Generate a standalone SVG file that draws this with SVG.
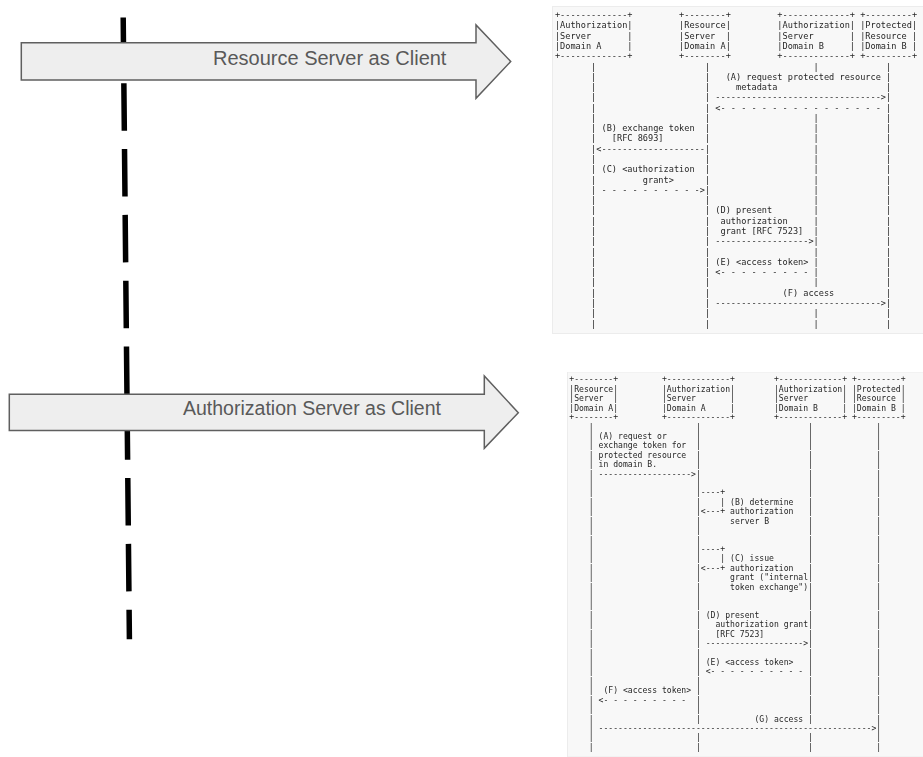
<svg xmlns="http://www.w3.org/2000/svg" width="923" height="757" viewBox="0 0 923 757">
  <defs>
    <!-- Grayscale pass so the thin monospace strokes keep a neutral tone -->
    <filter id="mono-gray" x="0" y="0" width="1" height="1" color-interpolation-filters="sRGB">
      <feColorMatrix type="saturate" values="0"/>
    </filter>
  </defs>
  <style>
    .bg { fill: #ffffff; }
    .panel { fill: #f8f8f8; stroke: #ececec; stroke-width: 1; }
    .ascii { font-family: "DejaVu Sans Mono", "Liberation Mono", monospace; fill: #262626; }
    .top { font-size: 8.6px; }
    .bottom { font-size: 8.1px; }
    .block { fill: #eeeeee; stroke: #5f5f5f; stroke-width: 1.5; stroke-linejoin: miter; }
    .block-label { font-family: "Liberation Sans", Arial, sans-serif; fill: #595959; }
    .timeline { stroke: #000000; stroke-width: 5.5; stroke-dasharray: 47.5 18.3; fill: none; }
  </style>

  <rect class="bg" x="0" y="0" width="923" height="757"/>

  <!-- Dashed vertical timeline, drawn beneath the block arrows -->
  <g id="connectors">
    <line class="timeline" x1="123.2" y1="17.5" x2="129.4" y2="639.3"/>
  </g>

  <!-- Block arrow: Resource Server as Client -->
  <g id="arrow-resource-server">
    <path class="block" d="M21.3,42.7 L476,42.7 L476,25 L510.7,61.5 L476,98.3 L476,80 L21.3,80 Z"/>
    <text class="block-label" x="213" y="64.5" font-size="20">Resource Server as Client</text>
  </g>

  <!-- Block arrow: Authorization Server as Client -->
  <g id="arrow-authorization-server">
    <path class="block" d="M9.3,394.3 L484.3,394.3 L484.3,376 L518.3,412.7 L484.3,448.3 L484.3,430.5 L9.3,430.5 Z"/>
    <text class="block-label" x="183" y="415" font-size="19.5">Authorization Server as Client</text>
  </g>

  <!-- Sequence chart: resource server acting as client -->
  <g id="flow-resource-server" filter="url(#mono-gray)">
    <rect class="panel" x="552.5" y="6.5" width="371" height="327"/>
    <g class="ascii top">
      <text xml:space="preserve" x="554.9" y="18.1">+-------------+         +--------+         +-------------+ +---------+</text>
      <text xml:space="preserve" x="554.9" y="28.38">|Authorization|         |Resource|         |Authorization| |Protected|</text>
      <text xml:space="preserve" x="554.9" y="38.66">|Server       |         |Server  |         |Server       | |Resource |</text>
      <text xml:space="preserve" x="554.9" y="48.94">|Domain A     |         |Domain A|         |Domain B     | |Domain B |</text>
      <text xml:space="preserve" x="554.9" y="59.22">+-------------+         +--------+         +-------------+ +---------+</text>
      <text xml:space="preserve" x="554.9" y="69.5">       |                     |                    |             |</text>
      <text xml:space="preserve" x="554.9" y="79.78">       |                     |   (A) request protected resource |</text>
      <text xml:space="preserve" x="554.9" y="90.06">       |                     |     metadata                     |</text>
      <text xml:space="preserve" x="554.9" y="100.34">       |                     | --------------------------------&gt;|</text>
      <text xml:space="preserve" x="554.9" y="110.62">       |                     | &lt;- - - - - - - - - - - - - - - - |</text>
      <text xml:space="preserve" x="554.9" y="120.9">       |                     |                    |             |</text>
      <text xml:space="preserve" x="554.9" y="131.18">       | (B) exchange token  |                    |             |</text>
      <text xml:space="preserve" x="554.9" y="141.46">       |   [RFC 8693]        |                    |             |</text>
      <text xml:space="preserve" x="554.9" y="151.74">       |&lt;--------------------|                    |             |</text>
      <text xml:space="preserve" x="554.9" y="162.02">       |                     |                    |             |</text>
      <text xml:space="preserve" x="554.9" y="172.3">       | (C) &lt;authorization  |                    |             |</text>
      <text xml:space="preserve" x="554.9" y="182.58">       |         grant&gt;      |                    |             |</text>
      <text xml:space="preserve" x="554.9" y="192.86">       | - - - - - - - - - -&gt;|                    |             |</text>
      <text xml:space="preserve" x="554.9" y="203.14">       |                     |                    |             |</text>
      <text xml:space="preserve" x="554.9" y="213.42">       |                     | (D) present        |             |</text>
      <text xml:space="preserve" x="554.9" y="223.7">       |                     |  authorization     |             |</text>
      <text xml:space="preserve" x="554.9" y="233.98">       |                     |  grant [RFC 7523]  |             |</text>
      <text xml:space="preserve" x="554.9" y="244.26">       |                     | ------------------&gt;|             |</text>
      <text xml:space="preserve" x="554.9" y="254.54">       |                     |                    |             |</text>
      <text xml:space="preserve" x="554.9" y="264.82">       |                     | (E) &lt;access token&gt; |             |</text>
      <text xml:space="preserve" x="554.9" y="275.1">       |                     | &lt;- - - - - - - - - |             |</text>
      <text xml:space="preserve" x="554.9" y="285.38">       |                     |                    |             |</text>
      <text xml:space="preserve" x="554.9" y="295.66">       |                     |              (F) access          |</text>
      <text xml:space="preserve" x="554.9" y="305.94">       |                     | --------------------------------&gt;|</text>
      <text xml:space="preserve" x="554.9" y="316.22">       |                     |                    |             |</text>
      <text xml:space="preserve" x="554.9" y="326.5">       |                     |                    |             |</text>
    </g>
  </g>

  <!-- Sequence chart: authorization server acting as client -->
  <g id="flow-authorization-server" filter="url(#mono-gray)">
    <rect class="panel" x="567.5" y="372" width="356" height="385"/>
    <g class="ascii bottom">
      <text xml:space="preserve" x="569.3" y="382.4">+--------+         +-------------+        +-------------+ +---------+</text>
      <text xml:space="preserve" x="569.3" y="391.82">|Resource|         |Authorization|        |Authorization| |Protected|</text>
      <text xml:space="preserve" x="569.3" y="401.24">|Server  |         |Server       |        |Server       | |Resource |</text>
      <text xml:space="preserve" x="569.3" y="410.66">|Domain A|         |Domain A     |        |Domain B     | |Domain B |</text>
      <text xml:space="preserve" x="569.3" y="420.08">+--------+         +-------------+        +-------------+ +---------+</text>
      <text xml:space="preserve" x="569.3" y="429.5">    |                     |                      |             |</text>
      <text xml:space="preserve" x="569.3" y="438.92">    | (A) request or      |                      |             |</text>
      <text xml:space="preserve" x="569.3" y="448.34">    | exchange token for  |                      |             |</text>
      <text xml:space="preserve" x="569.3" y="457.76">    | protected resource  |                      |             |</text>
      <text xml:space="preserve" x="569.3" y="467.18">    | in domain B.        |                      |             |</text>
      <text xml:space="preserve" x="569.3" y="476.6">    | -------------------&gt;|                      |             |</text>
      <text xml:space="preserve" x="569.3" y="486.02">    |                     |                      |             |</text>
      <text xml:space="preserve" x="569.3" y="495.44">    |                     |----+                 |             |</text>
      <text xml:space="preserve" x="569.3" y="504.86">    |                     |    | (B) determine   |             |</text>
      <text xml:space="preserve" x="569.3" y="514.28">    |                     |&lt;---+ authorization   |             |</text>
      <text xml:space="preserve" x="569.3" y="523.7">    |                     |      server B        |             |</text>
      <text xml:space="preserve" x="569.3" y="533.12">    |                     |                      |             |</text>
      <text xml:space="preserve" x="569.3" y="542.54">    |                     |                      |             |</text>
      <text xml:space="preserve" x="569.3" y="551.96">    |                     |----+                 |             |</text>
      <text xml:space="preserve" x="569.3" y="561.38">    |                     |    | (C) issue       |             |</text>
      <text xml:space="preserve" x="569.3" y="570.8">    |                     |&lt;---+ authorization   |             |</text>
      <text xml:space="preserve" x="569.3" y="580.22">    |                     |      grant ("internal|             |</text>
      <text xml:space="preserve" x="569.3" y="589.64">    |                     |      token exchange")|             |</text>
      <text xml:space="preserve" x="569.3" y="599.06">    |                     |                      |             |</text>
      <text xml:space="preserve" x="569.3" y="608.48">    |                     |                      |             |</text>
      <text xml:space="preserve" x="569.3" y="617.9">    |                     | (D) present          |             |</text>
      <text xml:space="preserve" x="569.3" y="627.32">    |                     |   authorization grant|             |</text>
      <text xml:space="preserve" x="569.3" y="636.74">    |                     |   [RFC 7523]         |             |</text>
      <text xml:space="preserve" x="569.3" y="646.16">    |                     | --------------------&gt;|             |</text>
      <text xml:space="preserve" x="569.3" y="655.58">    |                     |                      |             |</text>
      <text xml:space="preserve" x="569.3" y="665">    |                     | (E) &lt;access token&gt;   |             |</text>
      <text xml:space="preserve" x="569.3" y="674.42">    |                     | &lt;- - - - - - - - - - |             |</text>
      <text xml:space="preserve" x="569.3" y="683.84">    |                     |                      |             |</text>
      <text xml:space="preserve" x="569.3" y="693.26">    |  (F) &lt;access token&gt; |                      |             |</text>
      <text xml:space="preserve" x="569.3" y="702.68">    | &lt;- - - - - - - - -  |                      |             |</text>
      <text xml:space="preserve" x="569.3" y="712.1">    |                     |                      |             |</text>
      <text xml:space="preserve" x="569.3" y="721.52">    |                     |           (G) access |             |</text>
      <text xml:space="preserve" x="569.3" y="730.94">    | --------------------------------------------------------&gt;|</text>
      <text xml:space="preserve" x="569.3" y="740.36">    |                     |                      |             |</text>
      <text xml:space="preserve" x="569.3" y="749.78">    |                     |                      |             |</text>
    </g>
  </g>
</svg>
